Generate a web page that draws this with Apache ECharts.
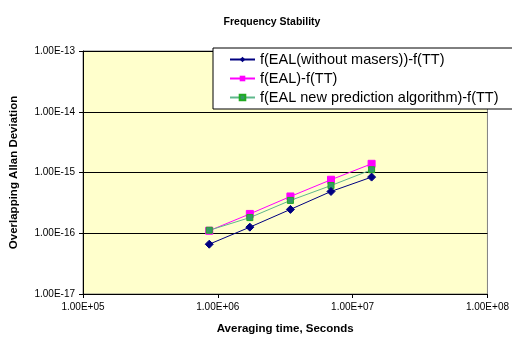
<!DOCTYPE html>
<html>
<head>
<meta charset="utf-8">
<script src="https://cdn.jsdelivr.net/npm/echarts@6/dist/echarts.min.js"></script>
<style>
html,body{margin:0;padding:0;background:#fff;overflow:hidden;}
#chart{width:512px;height:340px;overflow:hidden;}
</style>
</head>
<body>
<div id="chart"></div>
<script>
// Averaging times in seconds (10, 20, 40, 80, 160 days)
const tau = [864000, 1728000, 3456000, 6912000, 13824000];
// Overlapping Allan deviation for each time scale
const ealNoMasers = [6.6e-17, 1.26e-16, 2.47e-16, 4.87e-16, 8.4e-16];
const ealTT = [1.10e-16, 2.08e-16, 4.03e-16, 7.6e-16, 1.39e-15];
const ealNewAlgo = [1.12e-16, 1.81e-16, 3.47e-16, 6.1e-16, 1.11e-15];
const seriesNames = [
  'f(EAL(without masers))-f(TT)',
  'f(EAL)-f(TT)',
  'f(EAL new prediction algorithm)-f(TT)'
];

function sci(v) {
  const s = Number(v).toExponential(2).toUpperCase();
  return s.replace(/E([+-])(\d)$/, 'E$10$2');
}
function pairs(ys) { return tau.map((t, i) => [t, ys[i]]); }

const chart = echarts.init(document.getElementById('chart'));
const font = 'Arial, "Liberation Sans", sans-serif';
chart.setOption({
  animation: false,
  backgroundColor: '#ffffff',
  title: {
    text: 'Frequency Stability',
    left: 267, top: 12, textAlign: 'center',
    textStyle: { fontFamily: font, fontSize: 10.5, fontWeight: 'bold', color: '#000' }
  },
  grid: {
    left: 82, right: 22, top: 51, bottom: 44,
    show: true, backgroundColor: '#FFFFCC', borderColor: '#808080', borderWidth: 1
  },
  legend: {
    orient: 'vertical',
    left: 213, top: 48,
    padding: [4, 14, 4, 16],
    itemGap: 4,
    itemWidth: 25, itemHeight: 7,
    backgroundColor: '#ffffff',
    borderColor: '#000', borderWidth: 1,
    textStyle: { fontFamily: font, fontSize: 14.5, color: '#000' },
    data: seriesNames
  },
  xAxis: {
    type: 'log', logBase: 10, min: 1e5, max: 1e8,
    name: 'Averaging time, Seconds',
    nameLocation: 'middle', nameGap: 29,
    nameTextStyle: { fontFamily: font, fontSize: 11.5, fontWeight: 'bold', color: '#000' },
    axisLine: { lineStyle: { color: '#000', width: 1 } },
    axisTick: { show: true, inside: false, length: 4, lineStyle: { color: '#000' } },
    axisLabel: { fontFamily: font, fontSize: 10, color: '#000', margin: 8, formatter: sci },
    splitLine: { show: false },
    minorTick: { show: false }
  },
  yAxis: {
    type: 'log', logBase: 10, min: 1e-17, max: 1e-13,
    name: 'Overlapping Allan Deviation',
    nameLocation: 'middle', nameGap: 63, nameRotate: 90,
    nameTextStyle: { fontFamily: font, fontSize: 11.5, fontWeight: 'bold', color: '#000' },
    axisLine: { lineStyle: { color: '#000', width: 1 } },
    axisTick: { show: true, length: 4, lineStyle: { color: '#000' } },
    axisLabel: { fontFamily: font, fontSize: 10, color: '#000', margin: 8, formatter: sci },
    splitLine: { show: true, lineStyle: { color: '#000', width: 1 } }
  },
  series: [
    {
      name: seriesNames[0], type: 'line', data: pairs(ealNoMasers),
      symbol: 'diamond', symbolSize: 8,
      lineStyle: { color: '#000080', width: 1 },
      itemStyle: { color: '#000080', borderColor: '#000080' },
      z: 4
    },
    {
      name: seriesNames[1], type: 'line', data: pairs(ealTT),
      symbol: 'rect', symbolSize: 7,
      lineStyle: { color: '#FF00FF', width: 1 },
      itemStyle: { color: '#FF00FF', borderColor: '#FF00FF' },
      z: 2
    },
    {
      name: seriesNames[2], type: 'line', data: pairs(ealNewAlgo),
      symbol: 'rect', symbolSize: 6,
      lineStyle: { color: '#5FB88C', width: 1 },
      itemStyle: { color: '#339966', borderColor: '#22AA22', borderWidth: 1 },
      z: 3
    }
  ]
});
</script>
</body>
</html>
